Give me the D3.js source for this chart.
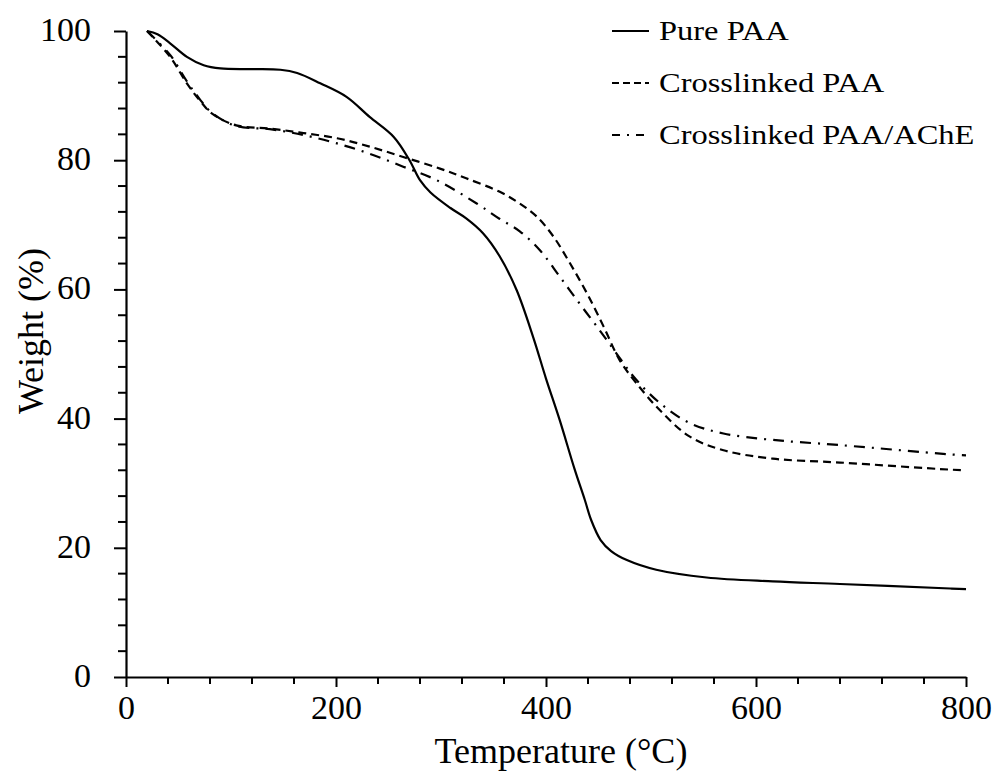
<!DOCTYPE html>
<html>
<head>
<meta charset="utf-8">
<script src="https://cdn.jsdelivr.net/npm/d3@7"></script>
<style>
  html, body { margin: 0; padding: 0; background: #fff; }
  svg { display: block; }
  text { font-family: "Liberation Serif", "Times New Roman", serif; fill: #000; }
</style>
</head>
<body>
<svg id="chart" width="998" height="775"></svg>
<script>
// ---- Data ----
const pureT = [20, 30, 42, 58, 74, 90, 121, 147, 163, 185, 210, 232, 255, 270, 280, 290, 309, 324, 340, 356, 372, 388, 400, 413, 427, 437, 443, 452, 462, 477, 505, 553, 616, 680, 785, 800];
const pureW = [100, 99.5, 98.1, 96.0, 94.7, 94.2, 94.1, 94.0, 93.5, 91.9, 89.8, 86.7, 83.6, 80.0, 76.9, 75.0, 72.6, 71.0, 68.7, 65.1, 59.9, 52.5, 46.2, 39.8, 32.3, 27.4, 24.3, 21.2, 19.5, 18.1, 16.6, 15.4, 14.8, 14.4, 13.7, 13.6];

const crossT = [20, 42, 58, 70, 82, 105, 137, 169, 201, 232, 264, 299, 324, 356, 375, 391, 407, 423, 439, 455, 470, 486, 509, 537, 569, 616, 680, 785, 800];
const crossW = [100, 96.0, 91.9, 89.3, 87.2, 85.4, 84.9, 84.2, 83.4, 82.1, 80.5, 78.7, 77.2, 75.1, 73.3, 71.3, 68.2, 64.0, 59.4, 54.2, 49.1, 45.5, 41.2, 37.2, 35.1, 33.8, 33.2, 32.1, 32.0];

const enzT = [20, 42, 58, 70, 82, 105, 137, 169, 201, 232, 264, 296, 334, 356, 375, 394, 413, 432, 451, 467, 486, 510, 537, 569, 616, 680, 782, 800];
const enzW = [100, 96.3, 92.2, 89.5, 87.3, 85.3, 84.8, 83.9, 82.6, 81.0, 79.0, 76.9, 73.3, 70.9, 69.0, 66.1, 62.0, 57.8, 53.7, 50.1, 46.0, 42.2, 39.3, 37.7, 36.7, 35.9, 34.5, 34.3];

const seriesNames = ["Pure PAA", "Crosslinked PAA", "Crosslinked PAA/AChE"];
const xMajorTicks = [0, 200, 400, 600, 800];
const yMajorTicks = [0, 20, 40, 60, 80, 100];
const xTitle = "Temperature (\u00B0C)";
const yTitle = "Weight (%)";

(function () {
// ---- Layout ----
const svg = d3.select("#chart");
const mLeft = 126, mRight = 966, mTop = 31, mBottom = 677;

const x = d3.scaleLinear().domain([0, 800]).range([mLeft, mRight]);
const y = d3.scaleLinear().domain([0, 100]).range([mBottom, mTop]);

const series = [
  { name: seriesNames[0], T: pureT, W: pureW, dash: null },
  { name: seriesNames[1], T: crossT, W: crossW, dash: "8,5" },
  { name: seriesNames[2], T: enzT, W: enzW, dash: "11,7,2,7" }
];

// ---- Axes ----
const xMinor = d3.range(0, 801, 40).filter(v => !xMajorTicks.includes(v));
const yMinor = d3.range(0, 101, 4).filter(v => !yMajorTicks.includes(v));

const xAxisG = svg.append("g").attr("transform", `translate(0,${mBottom})`);
xAxisG.call(d3.axisBottom(x).tickValues(xMajorTicks).tickSize(10).tickSizeOuter(0).tickFormat(d3.format("d")));
xAxisG.select(".domain").attr("stroke", "#000").attr("stroke-width", 2.2);
xAxisG.selectAll(".tick line").attr("stroke", "#000").attr("stroke-width", 2);
xAxisG.selectAll(".tick text").attr("font-size", 34).attr("y", 18).attr("dy", "0.71em")
  .attr("fill", "#000").style("font-family", '"Liberation Serif", serif');
xAxisG.selectAll(".minor").data(xMinor).enter().append("line").attr("class", "minor")
  .attr("x1", d => x(d)).attr("x2", d => x(d)).attr("y1", 0).attr("y2", 7)
  .attr("stroke", "#000").attr("stroke-width", 2);

const yAxisG = svg.append("g").attr("transform", `translate(${mLeft},0)`);
yAxisG.call(d3.axisLeft(y).tickValues(yMajorTicks).tickSize(12).tickSizeOuter(0).tickFormat(d3.format("d")));
yAxisG.select(".domain").attr("stroke", "#000").attr("stroke-width", 2.2);
yAxisG.selectAll(".tick line").attr("stroke", "#000").attr("stroke-width", 2);
yAxisG.selectAll(".tick text").attr("font-size", 34).attr("x", -35).attr("dy", "0.28em")
  .attr("fill", "#000").style("font-family", '"Liberation Serif", serif');
yAxisG.selectAll(".minor").data(yMinor).enter().append("line").attr("class", "minor")
  .attr("x1", -8).attr("x2", 0).attr("y1", d => y(d)).attr("y2", d => y(d))
  .attr("stroke", "#000").attr("stroke-width", 2);

// Axis titles
svg.append("text").attr("x", 561).attr("y", 763).attr("text-anchor", "middle")
  .attr("font-size", 36).text(xTitle);
svg.append("text").attr("transform", "translate(43,331) rotate(-90)").attr("text-anchor", "middle")
  .attr("font-size", 36).text(yTitle);

// ---- Lines ----
const line = d3.line().curve(d3.curveCatmullRom.alpha(0.5));
series.forEach(s => {
  const pts = s.T.map((t, i) => [x(t), y(s.W[i])]);
  svg.append("path").attr("d", line(pts)).attr("fill", "none")
    .attr("stroke", "#000").attr("stroke-width", 2.2)
    .attr("stroke-dasharray", s.dash);
});

// ---- Legend ----
const legendY = [31, 83, 135];
const legendDash = [null, "7,4", "8,7,2,7"];
series.forEach((s, i) => {
  svg.append("line").attr("x1", 612).attr("x2", 649).attr("y1", legendY[i]).attr("y2", legendY[i])
    .attr("stroke", "#000").attr("stroke-width", 2.2).attr("stroke-dasharray", legendDash[i]);
  svg.append("text").attr("transform", `translate(659,${legendY[i] + 9}) scale(1.16,1)`)
    .attr("font-size", 28).text(s.name);
});
})();
</script>
</body>
</html>
